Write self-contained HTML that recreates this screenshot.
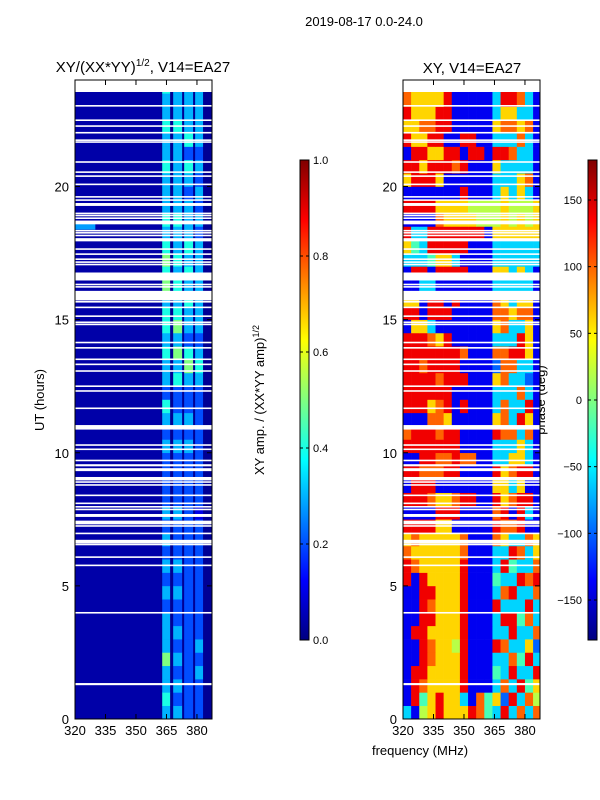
<!DOCTYPE html>
<html><head><meta charset="utf-8">
<style>
body{margin:0;background:#fff;}
svg{display:block;font-family:"Liberation Sans",sans-serif;}
</style></head>
<body>
<svg id="c" width="600" height="800" viewBox="0 0 600 800">
<text x="364" y="26" font-size="13" text-anchor="middle">2019-08-17 0.0-24.0</text>
<text x="143" y="72" font-size="15" text-anchor="middle">XY/(XX*YY)<tspan font-size="10" dy="-6">1/2</tspan><tspan dy="6">, V14=EA27</tspan></text>
<text x="472" y="73" font-size="15" text-anchor="middle">XY, V14=EA27</text>
<text x="44" y="400" font-size="13" text-anchor="middle" transform="rotate(-90 44 400)">UT (hours)</text>
<text x="420" y="755" font-size="13" text-anchor="middle">frequency (MHz)</text>
<text x="264" y="400" font-size="13" text-anchor="middle" transform="rotate(-90 264 400)">XY amp. / (XX*YY amp)<tspan font-size="9" dy="-5">1/2</tspan></text>
<text x="545" y="400" font-size="13" text-anchor="middle" transform="rotate(-90 545 400)">phase (deg)</text>
<g id="g"></g>
</svg>
<script>
// ---- data ----
const freqTicks=[320,335,350,365,380];
const hourTicks=[0,5,10,15,20];
const ampTicks=[0.0,0.2,0.4,0.6,0.8,1.0];
const phaseTicks=[-150,-100,-50,0,50,100,150];
const dataTopHour=23.55;
// flagged (white) time ranges [start,end] hours
const gaps=[[23.0,23.06],[22.46,22.52],[22.24,22.3],[21.99,22.05],[21.71,21.77],[21.64,21.7],[20.89,20.95],[20.51,20.57],[20.36,20.42],[20.05,20.11],[19.58,19.64],[19.46,19.52],[19.27,19.38],[18.96,19.02],[18.88,18.94],[18.78,18.84],[18.58,18.72],[18.31,18.37],[18.23,18.29],[18.13,18.19],[17.94,18.06],[17.62,17.68],[17.43,17.49],[17.24,17.3],[17.13,17.19],[17.04,17.1],[16.47,16.77],[16.29,16.35],[16.2,16.26],[15.72,16.08],[15.64,15.7],[15.43,15.49],[15.1,15.16],[14.87,14.93],[14.79,14.85],[14.11,14.17],[13.91,13.97],[13.48,13.54],[13.29,13.35],[13.04,13.1],[12.47,12.53],[12.29,12.35],[11.64,11.7],[10.87,11.04],[10.26,10.32],[10.1,10.16],[9.68,9.74],[9.49,9.57],[9.31,9.42],[8.96,9.09],[8.87,8.93],[8.76,8.82],[8.37,8.43],[8.07,8.13],[7.94,8.0],[7.84,7.9],[7.59,7.7],[7.31,7.45],[7.22,7.28],[6.94,7.0],[6.59,6.73],[6.53,6.58],[6.05,6.11],[5.74,5.8],[3.96,4.02],[1.27,1.35]];
// amplitude bands [fStart,fEnd] MHz
const ampBandStart=[362.9,368.3,373.7,379.1];
const ampBandEnd=[366.8,372.7,378.1,383.0];
// per band intensity per half hour (digit = value*10), row 0 = 0h
const ampBand1="343353332323232322223234233434435454343334334334";
const ampBand2="323232322323222322223232243535434343343333334333";
const ampBand3="222222222222222222223232235423343434333234243333";
const ampBand4="222323222222222122222222234323333333232323233333";
const ampBackground=0.02;
// phase grid: 48 rows (half hours from 0h) x 17 columns (4 MHz from 320), digit d -> -180+d*40
const phaseCol0=320, phaseColW=4;
const phaseRows=[
"31568666874383737","18468663174628375","18766668111373846","18866668111438338",
"11876668111337483","11876658111873362","18866668111338337","11886668111388473",
"11876668111833383","11886668111378337","81866668111433878","87666668111384337",
"76666667111338736","67666667111763376","88886611111877811","11118881111781831",
"88876678811867881","18881111111663611","88777881111867881","11887787711336631",
"88888881111333631","78887881111877371","11177611111673861","88867818111373381",
"88888811111333731","88887888111673321","88788881111277331","88888887111778861",
"88876811111333861","16631111111673361","88188811111776771","66188181111763661",
"11331111111333331","18818888111663631","33346631111333333","64388888111333333",
"83388888881666666","11117666655565656","88886666555565556","11111118111363631",
"68886111111333671","88688878111633331","18866881881887331","86688118811333731",
"66778811111677671","86668811111366331","76666811111388731","76666811111388731"];

// ---- geometry ----
const g=document.getElementById('g');
const NS='http://www.w3.org/2000/svg';
const P1={x0:75,x1:212}, P2={x0:403,x1:540}, Y0=719, Y1=80;
const fMin=320,fMax=387.4;
function yH(h){return Y0-(h/24)*(Y0-Y1);}
function xF(P,f){return P.x0+(f-fMin)/(fMax-fMin)*(P.x1-P.x0);}
function jet(t){t=Math.max(0,Math.min(1,t));const c=v=>Math.round(255*Math.max(0,Math.min(1,v)));
return `rgb(${c(1.5-Math.abs(4*t-3))},${c(1.5-Math.abs(4*t-2))},${c(1.5-Math.abs(4*t-1))})`;}
function mk(tag,attrs,parent){const e=document.createElementNS(NS,tag);for(const k in attrs)e.setAttribute(k,attrs[k]);(parent||g).appendChild(e);return e;}

const defs=mk('defs',{});
[['clip1',P1],['clip2',P2]].forEach(([id,P])=>{const cp=mk('clipPath',{id:id},defs);mk('rect',{x:P.x0,y:yH(dataTopHour),width:P.x1-P.x0,height:Y0-yH(dataTopHour)},cp);});

// ---- left amplitude panel ----
const L=mk('g',{'clip-path':'url(#clip1)'});


let bg=mk('rect',{x:P1.x0,y:yH(24),width:P1.x1-P1.x0,height:Y0-yH(24),fill:jet(ampBackground)},L);


let bg2=mk('rect',{x:P1.x0,y:yH(24),width:xF(P1,362)-P1.x0,height:Y0-yH(24),fill:jet(ampBackground+0.02)},L);


mk('rect',{x:P1.x0,y:yH(18.62),width:xF(P1,330)-P1.x0,height:yH(18.38)-yH(18.62),fill:jet(0.28)},L);
const bands=[ampBand1,ampBand2,ampBand3,ampBand4];
bands.forEach((s,b)=>{
  for(let r=0;r<s.length;r++){
    const v=+s[r]/10;
    const x=xF(P1,ampBandStart[b]), w=xF(P1,ampBandEnd[b])-x;
    const e=mk('rect',{x:x,y:yH((r+1)/2),width:w,height:yH(r/2)-yH((r+1)/2)+0.3,fill:jet(v)},L);
    
    
  }
});
// ---- right phase panel ----
const R=mk('g',{'clip-path':'url(#clip2)'});


phaseRows.forEach((s,r)=>{
  for(let c=0;c<s.length;c++){
    const ph=-180+(+s[c])*40;
    const f0=phaseCol0+c*phaseColW, f1=Math.min(fMax,f0+phaseColW);
    const x=xF(P2,f0);
    const e=mk('rect',{x:x,y:yH((r+1)/2),width:xF(P2,f1)-x+0.3,height:yH(r/2)-yH((r+1)/2)+0.3,fill:jet((ph+180)/360)},R);
    
    
  }
});
// gaps
[[P1,L],[P2,R]].forEach(([P,grp])=>{
  gaps.forEach(([a,b])=>{
    const e=mk('rect',{x:P.x0,y:yH(b),width:P.x1-P.x0,height:Math.max(1.5,yH(a)-yH(b)),fill:'#fff'},grp);
    
    
  });
});
// axes frames & ticks
[P1,P2].forEach((P,i)=>{
  const fr=mk('rect',{x:P.x0,y:Y1,width:P.x1-P.x0,height:Y0-Y1,fill:'none',stroke:'#000','stroke-width':1});
  
  
  freqTicks.forEach(f=>{
    const x=xF(P,f);
    mk('line',{x1:x,x2:x,y1:Y0,y2:Y0-5,stroke:'#000'});
    mk('line',{x1:x,x2:x,y1:Y1,y2:Y1+5,stroke:'#000'});
    const t=mk('text',{x:x,y:Y0+16,'font-size':13,'text-anchor':'middle'});t.textContent=f;
    
    
  });
  hourTicks.forEach(h=>{
    const y=yH(h);
    mk('line',{x1:P.x0,x2:P.x0+5,y1:y,y2:y,stroke:'#000'});
    mk('line',{x1:P.x1,x2:P.x1-5,y1:y,y2:y,stroke:'#000'});
    const t=mk('text',{x:P.x0-6,y:y+5,'font-size':13,'text-anchor':'end'});t.textContent=h;
    
    
  });
});
// colorbars
function colorbar(x,name,ticks,vmin,vmax,labelLeft){
  const id='grad'+name;
  const lg=mk('linearGradient',{id:id,x1:0,y1:1,x2:0,y2:0},defs);
  for(let i=0;i<=8;i++)mk('stop',{offset:i/8,'stop-color':jet(i/8)},lg);
  const cy0=640,cy1=160;
  const r=mk('rect',{x:x,y:cy1,width:9,height:cy0-cy1,fill:`url(#${id})`,stroke:'#000','stroke-width':1});
  
  
  ticks.forEach(v=>{
    const y=cy0-(v-vmin)/(vmax-vmin)*(cy0-cy1);
    mk('line',{x1:x,x2:x+3,y1:y,y2:y,stroke:'#000'});
    mk('line',{x1:x+9,x2:x+6,y1:y,y2:y,stroke:'#000'});
    const t=labelLeft?mk('text',{x:x-6,y:y+4,'font-size':11,'text-anchor':'end'}):mk('text',{x:x+13,y:y+4,'font-size':11});
    t.textContent=(name==='amp')?v.toFixed(1):(v<0?'\u2212'+(-v):String(v));
    
    
  });
}
colorbar(300,'amp',ampTicks,0,1,false);
colorbar(588,'phase',phaseTicks,-180,180,true);
</script>
</body></html>
